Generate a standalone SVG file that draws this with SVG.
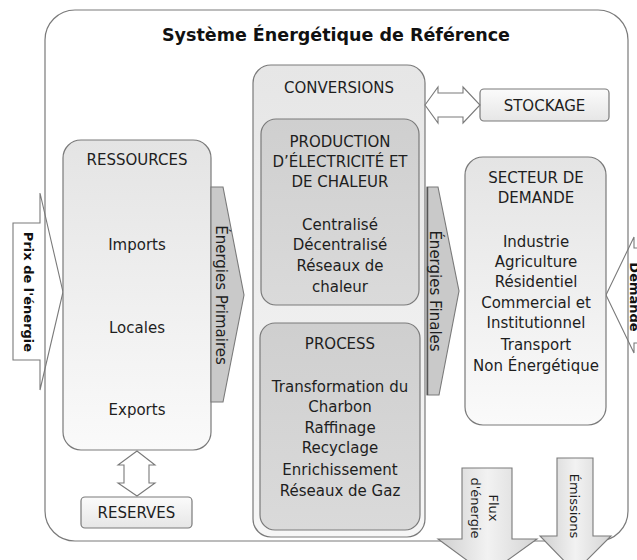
<svg xmlns="http://www.w3.org/2000/svg" width="637" height="560" viewBox="0 0 637 560">
<defs>
<linearGradient id="gLight" x1="0" y1="0" x2="0" y2="1"><stop offset="0" stop-color="#e4e4e4"/><stop offset="1" stop-color="#fafafa"/></linearGradient>
<linearGradient id="gConv" x1="0" y1="0" x2="0" y2="1"><stop offset="0" stop-color="#e6e6e6"/><stop offset="1" stop-color="#f6f6f6"/></linearGradient>
<linearGradient id="gDark" x1="0" y1="0" x2="0" y2="1"><stop offset="0" stop-color="#cfcfcf"/><stop offset="1" stop-color="#dadada"/></linearGradient>
<linearGradient id="gSmall" x1="0" y1="0" x2="0" y2="1"><stop offset="0" stop-color="#fbfbfb"/><stop offset="1" stop-color="#e6e6e6"/></linearGradient>
<linearGradient id="gDown" x1="0" y1="0" x2="1" y2="0"><stop offset="0" stop-color="#cfcfcf"/><stop offset="0.5" stop-color="#f2f2f2"/><stop offset="1" stop-color="#d4d4d4"/></linearGradient>
</defs>
<style>
.box{stroke:#7a7a7a;stroke-width:1.2}
.arr{stroke:#7a7a7a;stroke-width:1.1;stroke-linejoin:miter}
.t{font-family:"DejaVu Sans",Verdana,sans-serif;font-size:15px;fill:#1e1e1e;text-anchor:middle;dominant-baseline:central}
.tb{font-family:"DejaVu Sans",Verdana,sans-serif;font-size:13px;font-weight:bold;fill:#111;text-anchor:middle;dominant-baseline:central}
.ts{font-family:"DejaVu Sans",Verdana,sans-serif;font-size:13px;fill:#1e1e1e;text-anchor:middle;dominant-baseline:central}
.title{font-family:"DejaVu Sans",Verdana,sans-serif;font-size:17.5px;font-weight:bold;fill:#111;text-anchor:middle;dominant-baseline:central}
</style>

<g id="connectors">
<g id="prix">
<path class="arr" fill="#fff" d="M13,223 L40,223 L40,193 L63,292 L40,390 L40,360 L13,360 Z"/>
<text class="tb" transform="translate(28,292) rotate(90)">Prix de l'énergie</text>
</g>
<g id="demande">
<path class="arr" fill="#fff" d="M645,248 L634,248 L634,237 L606,295 L634,353 L634,343 L645,343"/>
<text class="tb" transform="translate(634,297) rotate(90)">Demande</text>
</g>
</g>

<g id="frame">
<rect class="box" x="45" y="10" width="583" height="531" rx="30" fill="none"/>
<text class="title" x="336" y="35">Système Énergétique de Référence</text>
</g>

<g id="ressources">
<rect class="box" x="63" y="140" width="148" height="310" rx="18" fill="url(#gLight)"/>
<text class="t" x="137" y="160">RESSOURCES</text>
<text class="t" x="137" y="245">Imports</text>
<text class="t" x="137" y="328">Locales</text>
<text class="t" x="137" y="410">Exports</text>
</g>

<g id="reserves">
<rect class="box" x="81" y="497" width="111" height="31" rx="4" fill="url(#gSmall)"/>
<text class="t" x="136.5" y="513">RESERVES</text>
</g>

<g id="conversions">
<rect class="box" x="253" y="65" width="172" height="472" rx="18" fill="url(#gConv)"/>
<text class="t" x="339" y="88">CONVERSIONS</text>
</g>

<g id="production">
<rect class="box" x="261" y="119" width="158" height="186" rx="15" fill="url(#gDark)"/>
<text class="t" x="340" y="142">PRODUCTION</text>
<text class="t" x="340" y="162">D’ÉLECTRICITÉ ET</text>
<text class="t" x="340" y="182">DE CHALEUR</text>
<text class="t" x="340" y="225">Centralisé</text>
<text class="t" x="340" y="245">Décentralisé</text>
<text class="t" x="340" y="266">Réseaux de</text>
<text class="t" x="340" y="287">chaleur</text>
</g>

<g id="process">
<rect class="box" x="260" y="323" width="160" height="207" rx="15" fill="url(#gDark)"/>
<text class="t" x="340" y="344">PROCESS</text>
<text class="t" x="340" y="387">Transformation du</text>
<text class="t" x="340" y="407">Charbon</text>
<text class="t" x="340" y="428">Raffinage</text>
<text class="t" x="340" y="448">Recyclage</text>
<text class="t" x="340" y="470">Enrichissement</text>
<text class="t" x="340" y="491">Réseaux de Gaz</text>
</g>

<g id="stockage">
<rect class="box" x="480" y="89" width="129" height="32" rx="4" fill="url(#gSmall)"/>
<text class="t" x="544.5" y="105.5">STOCKAGE</text>
</g>

<g id="secteur">
<rect class="box" x="465" y="157" width="141" height="268" rx="18" fill="url(#gLight)"/>
<text class="t" x="536" y="178">SECTEUR DE</text>
<text class="t" x="536" y="198">DEMANDE</text>
<text class="t" x="536" y="242">Industrie</text>
<text class="t" x="536" y="262">Agriculture</text>
<text class="t" x="536" y="282">Résidentiel</text>
<text class="t" x="536" y="303">Commercial et</text>
<text class="t" x="536" y="323">Institutionnel</text>
<text class="t" x="536" y="345">Transport</text>
<text class="t" x="536" y="366">Non Énergétique</text>
</g>

<g id="arrows">
<path class="arr" fill="#fff" d="M137,451 L155,465 L149,465 L149,483 L155,483 L137,496 L118,483 L124,483 L124,465 L118,465 Z"/>
<path class="arr" fill="#fff" d="M425,105 L438,87 L438,93 L463,93 L463,87 L480,105 L463,123 L463,117 L438,117 L438,123 Z"/>
<g id="primaires">
<path class="arr" fill="#c9c9c9" d="M211,187 L223,187 L244,295 L223,402 L211,402 Z"/>
<text class="t" transform="translate(221,295) rotate(90)">Énergies Primaires</text>
</g>
<g id="finales">
<path class="arr" fill="#c9c9c9" d="M427,187 L438,187 L459,291 L439,395 L427,395 Z"/>
<line x1="427.5" y1="187" x2="427.5" y2="395" stroke="#555" stroke-width="1.5"/>
<text class="t" transform="translate(435,291) rotate(90)">Énergies Finales</text>
</g>
<g id="flux">
<path class="arr" fill="url(#gDown)" d="M462,468 L512,468 L512,539 L537,539 L487,575 L438,539 L462,539 Z"/>
<text class="ts" transform="translate(485,508) rotate(90)"><tspan x="0" y="-9">Flux</tspan><tspan x="0" y="9">d'énergie</tspan></text>
</g>
<g id="emissions">
<path class="arr" fill="url(#gDown)" d="M557,458 L593,458 L593,536 L611,536 L575,572 L540,536 L557,536 Z"/>
<text class="ts" transform="translate(574,506) rotate(90)">Émissions</text>
</g>
</g>
</svg>
